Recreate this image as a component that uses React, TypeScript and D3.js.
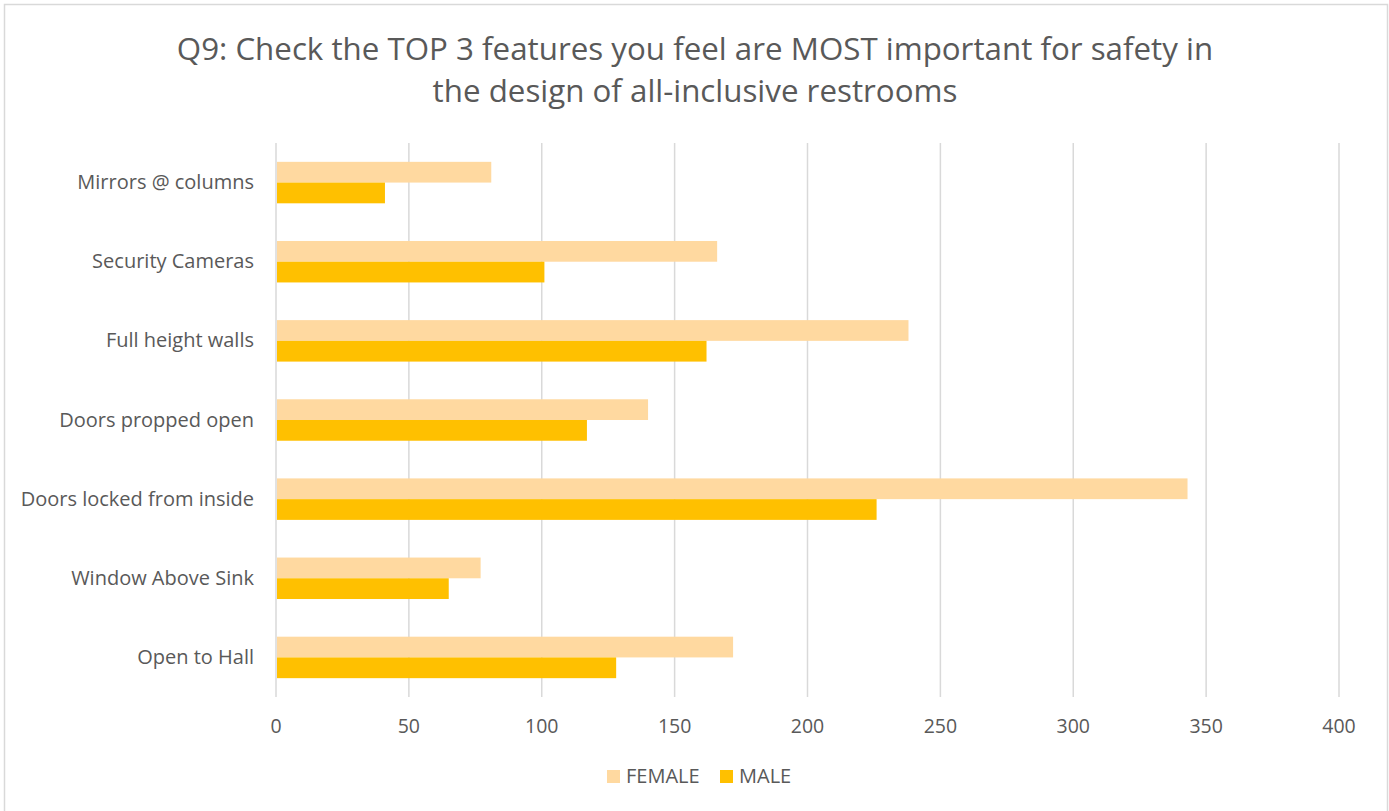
import React from "react";
import * as d3 from "d3";

const categories = [
  "Mirrors @ columns",
  "Security Cameras",
  "Full height walls",
  "Doors propped open",
  "Doors locked from inside",
  "Window Above Sink",
  "Open to Hall",
];
const femaleValues = [81, 166, 238, 140, 343, 77, 172];
const maleValues = [41, 101, 162, 117, 226, 65, 128];
const seriesNames = ["FEMALE", "MALE"];
const xTicks = [0, 50, 100, 150, 200, 250, 300, 350, 400];
const titleLines = [
  "Q9: Check the TOP 3 features you feel are MOST important for safety in",
  "the design of all-inclusive restrooms",
];

const W = 1389;
const H = 811;
const FONT = "'Open Sans', 'DejaVu Sans', sans-serif";
const TEXT = "#595959";
const GRID = "#d9d9d9";
const COLORS = ["#FFD9A0", "#FFC000"];

export default function App() {
  const left = 276;
  const right = 1339;
  const top = 143;
  const bottom = 697;

  const x = d3.scaleLinear().domain([0, 400]).range([left, right]);
  const y = d3.scaleBand<string>().domain(categories).range([top, bottom]).paddingInner(0.476).paddingOuter(0.238);
  const sub = d3.scaleBand<string>().domain(seriesNames).range([0, y.bandwidth()]);
  const series = [femaleValues, maleValues];

  return (
    <svg
      width={W}
      height={H}
      style={{ position: "absolute", left: 0, top: 0, background: "#fff" }}
      fontFamily={FONT}
    >
      <rect x={0} y={0} width={W} height={H} fill="#fff" />
      <rect x={4.5} y={4.5} width={1383} height={H + 10} fill="none" stroke={GRID} strokeWidth={1.5} />
      {titleLines.map((t, i) => (
        <text key={i} x={695} y={59.5 + i * 42.5} textAnchor="middle" fontSize={31.3} fill={TEXT}>
          {t}
        </text>
      ))}
      {xTicks.map((t) => (
        <g key={t}>
          <line x1={x(t)} x2={x(t)} y1={top} y2={bottom} stroke={GRID} strokeWidth={1.5} />
          <text x={x(t)} y={732.5} textAnchor="middle" fontSize={19.5} fill={TEXT}>
            {t}
          </text>
        </g>
      ))}
      {categories.map((c, i) => (
        <g key={c}>
          {series.map((vals, s) => (
            <rect
              key={s}
              x={x(0) + 1}
              y={(y(c) as number) + (sub(seriesNames[s]) as number)}
              width={x(vals[i]) - x(0) - 1}
              height={sub.bandwidth()}
              fill={COLORS[s]}
            />
          ))}
          <text
            x={254}
            y={(y(c) as number) + y.bandwidth() / 2 + 6.5}
            textAnchor="end"
            fontSize={20}
            fill={TEXT}
          >
            {c}
          </text>
        </g>
      ))}
      <g>
        <rect x={607} y={770} width={13} height={13} fill={COLORS[0]} />
        <text x={626} y={783} fontSize={20} fill={TEXT}>
          {seriesNames[0]}
        </text>
        <rect x={720} y={770} width={13} height={13} fill={COLORS[1]} />
        <text x={739} y={783} fontSize={20} fill={TEXT}>
          {seriesNames[1]}
        </text>
      </g>
    </svg>
  );
}
